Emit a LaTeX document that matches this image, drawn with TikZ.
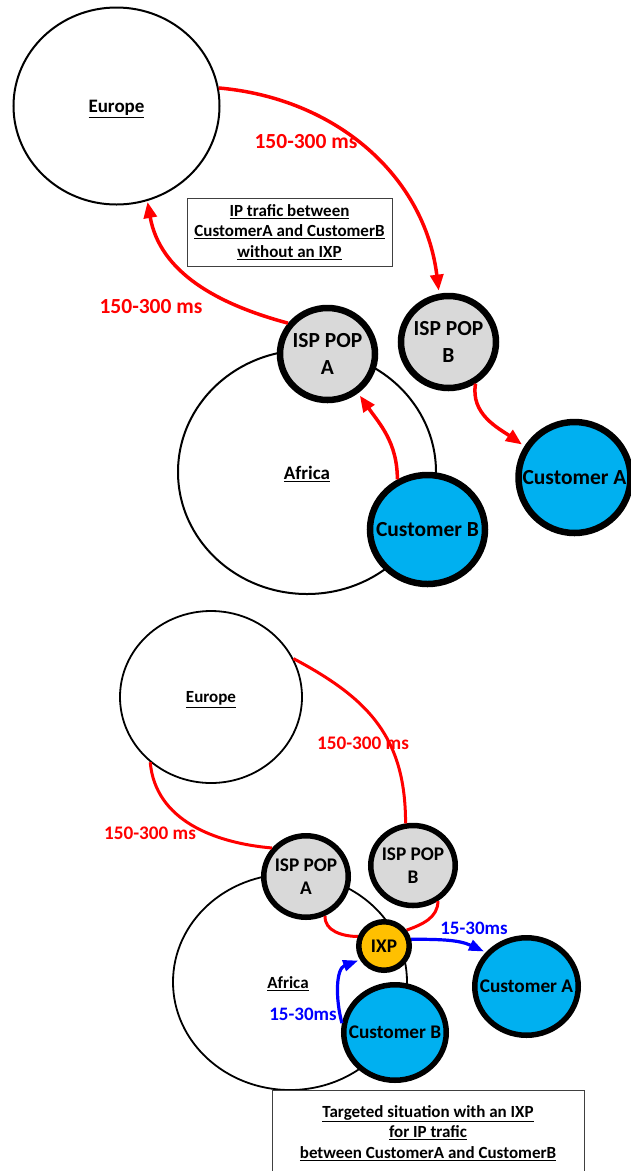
\documentclass[tikz,border=0pt]{standalone}
\usepackage{fontspec}
\setmainfont{Carlito}
\usetikzlibrary{shapes.geometric,arrows.meta}
\definecolor{cyanA}{HTML}{00B0F0}
\definecolor{grayA}{HTML}{D9D9D9}
\definecolor{ixpA}{HTML}{FFC000}
\definecolor{redA}{HTML}{FF0000}
\definecolor{blueA}{HTML}{0000FF}
\pgfdeclarelayer{front}
\pgfsetlayers{main,front}
\begin{document}
\begin{tikzpicture}[x=1pt,y=1pt,
  region/.style={ellipse,draw=black,line width=2pt,fill=white,inner sep=0pt},
  bigA/.style={ellipse,draw=black,line width=6.5pt,inner sep=0pt},
  bigB/.style={ellipse,draw=black,line width=5.5pt,inner sep=0pt},
  txtA/.style={font=\bfseries\fontsize{21.5}{27}\selectfont,align=center,inner sep=0pt},
  txtB/.style={font=\bfseries\fontsize{19.3}{23.5}\selectfont,align=center,inner sep=0pt},
  regA/.style={font=\bfseries\fontsize{19}{22}\selectfont,inner sep=0pt},
  regB/.style={font=\bfseries\fontsize{17}{20}\selectfont,inner sep=0pt},
  boxtxt/.style={font=\bfseries\fontsize{17}{20.7}\selectfont,align=center,inner sep=0pt},
  redlblA/.style={font=\bfseries\fontsize{21.5}{25}\selectfont,text=redA,inner sep=0pt},
  redlblB/.style={font=\bfseries\fontsize{19.2}{23}\selectfont,text=redA,inner sep=0pt},
  bluelbl/.style={font=\bfseries\fontsize{19}{23}\selectfont,text=blueA,inner sep=0pt},
  redarrow/.style={draw=redA,line width=3.5pt,-{Triangle[length=16pt,width=13pt]}},
  redline/.style={draw=redA,line width=3pt},
  bluearrow/.style={draw=blueA,line width=3.2pt,-{Triangle[length=15pt,width=11pt]}},
  framebox/.style={draw=black!75,line width=1pt,fill=white}]
\useasboundingbox (0,0) rectangle (631,-1171);
\fill[white] (0,0) rectangle (631,-1171);

% ---------------- top ----------------
\node[region,minimum width=206pt,minimum height=197pt] (eu1) at (116.5,-106) {};
\node[regA] (eu1t) at (116.5,-109) {\underline{Europe}};
\node[region,minimum width=258pt,minimum height=244pt] (af1) at (307,-472) {};
\node[regA] (af1t) at (307,-474) {\underline{Africa}};

\node[bigA,fill=grayA,minimum width=95pt,minimum height=92pt] (popA1) at (327.5,-354) {};
\node[txtA] (popA1t) at (popA1) {ISP POP\\A};
\node[bigA,fill=grayA,minimum width=95pt,minimum height=92pt] (popB1) at (448.5,-342) {};
\node[txtA] (popB1t) at (popB1) {ISP POP\\B};
\node[bigA,fill=cyanA,minimum width=115pt,minimum height=109pt] (custB1) at (427.5,-529.5) {};
\node[txtA] (custB1t) at (custB1) {Customer B};
\node[bigA,fill=cyanA,minimum width=112pt,minimum height=111pt] (custA1) at (574.5,-477.5) {};
\node[txtA] (custA1t) at (custA1) {Customer A};

\node[framebox,minimum width=205pt,minimum height=68pt] (box1) at (289.5,-232) {};
\node[boxtxt] (box1t) at (box1) {\underline{IP trafic between}\\\underline{CustomerA and CustomerB}\\\underline{without an IXP}};

\draw[redarrow,shorten >=3pt] (eu1.10) to[out=-5,in=97] (popB1.101);
\draw[redarrow,shorten >=1pt] (popA1.142) to[out=165,in=-80] (eu1.-72);
\draw[redarrow,shorten >=3pt] (custB1.121) to[out=90,in=-55] (popA1.-52);
\draw[redarrow,shorten >=3pt] (popB1.-57) to[out=-100,in=145] (custA1.148);

\node[redlblA] (l1) at (306,-142) {150-300 ms};
\node[redlblA] (l2) at (151,-307) {150-300 ms};

% ---------------- bottom ----------------
\node[region,line width=1.8pt,minimum width=182pt,minimum height=172pt] (eu2) at (211,-697) {};
\node[regB] (eu2t) at (211,-699.5) {\underline{Europe}};
\node[region,line width=1.8pt,minimum width=234pt,minimum height=216pt] (af2) at (290,-982) {};
\node[regB] (af2t) at (288,-984) {\underline{Africa}};

\node[bigB,fill=grayA,minimum width=84.5pt,minimum height=81.5pt] (popA2) at (306,-876.5) {};
\node[txtB] (popA2t) at (popA2) {ISP POP\\A};
\node[bigB,fill=grayA,minimum width=84.5pt,minimum height=80pt] (popB2) at (413,-865.5) {};
\node[txtB] (popB2t) at (popB2) {ISP POP\\B};

\begin{pgfonlayer}{front}
\node[bigB,fill=ixpA,minimum width=50.5pt,minimum height=48.5pt] (ixp) at (384,-946) {};
\node[txtB] (ixpt) at (ixp) {IXP};
\end{pgfonlayer}

\draw[redline] (eu2.25) to[out=-28,in=90,looseness=1.1] (popB2.100);
\draw[redline] (eu2.-133) to[out=-85,in=175] (popA2.140);
\draw[redline] (popA2.-64) to[out=-95,in=180] (ixp.160);
\draw[redline] (popB2.-55) to[out=-90,in=20] (ixp.35);

\node[bigB,fill=cyanA,minimum width=102.5pt,minimum height=95.5pt] (custB2) at (395,-1032.5) {};
\node[txtB] (custB2t) at (custB2) {Customer B};
\node[bigB,fill=cyanA,minimum width=103.5pt,minimum height=97.5pt] (custA2) at (526.5,-986.5) {};
\node[txtB] (custA2t) at (custA2) {Customer A};

\draw[bluearrow,shorten >=2pt] (ixp.14) to[out=0,in=155] (custA2.140);
\draw[bluearrow,shorten >=2pt] (custB2.170) to[out=105,in=200] (ixp.-150);

\node[redlblB] (l3) at (363,-743) {150-300 ms};
\node[redlblB] (l4) at (150,-833) {150-300 ms};
\node[bluelbl] (l5) at (474,-928) {15-30ms};
\node[bluelbl] (l6) at (303,-1014) {15-30ms};

\node[framebox,minimum width=312pt,minimum height=110pt,anchor=north west] (box2) at (272,-1090) {};
\node[boxtxt] (box2t) at (428,-1133) {\underline{Targeted situation with an IXP}\\\underline{for IP trafic}\\\underline{between CustomerA and CustomerB}};
\end{tikzpicture}
\end{document}
